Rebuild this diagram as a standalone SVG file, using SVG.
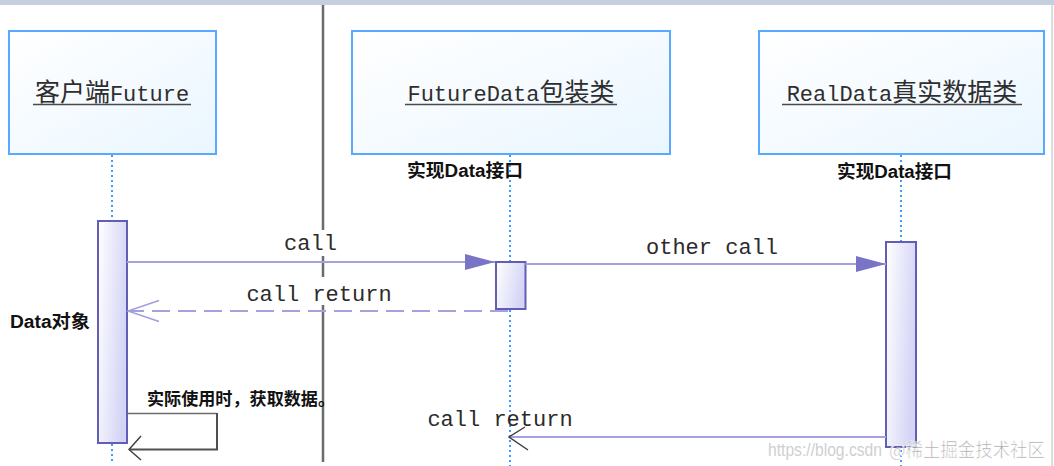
<svg xmlns="http://www.w3.org/2000/svg" width="1054" height="466" viewBox="0 0 1054 466">
<style>
.head{stroke:#58a9ff;stroke-width:2;fill:url(#gHead)}
.title{font-size:26px;fill:#2e2e2e;text-anchor:middle}
.lat{font-family:"Liberation Mono",monospace;font-size:22px}
.cjk{font-family:"Noto Sans CJK SC",sans-serif;font-size:25px}
.uline{stroke:#4a4a4a;stroke-width:1.6}
.life{stroke:#3d9bff;stroke-width:2;stroke-dasharray:2 3;fill:none}
.act{stroke:#625db5;stroke-width:2;fill:url(#gAct)}
.msg{font-family:"Liberation Mono",monospace;font-size:22px;fill:#2b2b2b;text-anchor:middle}
.note{font-family:"Liberation Sans","Noto Sans CJK SC",sans-serif;font-weight:bold;fill:#111}
.mline{stroke:#a3a2dc;stroke-width:1.8;fill:none}
.openg{stroke:#3c3c3c;stroke-width:1.4;fill:none}
.wm1{font-family:"Liberation Sans","Noto Sans CJK SC",sans-serif;font-size:18px;fill:#cfcfcf}
.wm2{font-family:"Noto Sans CJK SC",sans-serif;font-size:19px;fill:#8a8a8a;fill-opacity:0.75;stroke:#ffffff;stroke-width:0.6}
</style>
<defs>
<linearGradient id="gHead" x1="0" y1="0" x2="1" y2="1">
<stop offset="0" stop-color="#ffffff"/>
<stop offset="1" stop-color="#eaf6ff"/>
</linearGradient>
<linearGradient id="gAct" x1="0" y1="0" x2="1" y2="0.3">
<stop offset="0" stop-color="#ffffff"/>
<stop offset="1" stop-color="#d4d4f6"/>
</linearGradient>
<marker id="mFill" markerUnits="userSpaceOnUse" markerWidth="32" markerHeight="18" refX="30" refY="9" orient="auto">
<path d="M0,1 L30,9 L0,17 Z" fill="#7a74c6"/>
</marker>
</defs>
<rect x="0" y="0" width="1054" height="466" fill="#ffffff"/>
<rect x="0" y="0" width="1054" height="5" fill="#c6cfde"/>
<line x1="1052" y1="5" x2="1052" y2="466" stroke="#d0d0d0" stroke-width="1.5"/>

<g id="divider">
<line x1="323" y1="5" x2="323" y2="230" stroke="#6b6b6b" stroke-width="2.5"/>
<line x1="323" y1="256" x2="323" y2="277" stroke="#6b6b6b" stroke-width="2.5"/>
<line x1="323" y1="305" x2="323" y2="462" stroke="#6b6b6b" stroke-width="2.5"/>
</g>

<g id="lifelines">
<line class="life" x1="112" y1="155" x2="112" y2="220"/>
<line class="life" x1="112" y1="444" x2="112" y2="464"/>
<line class="life" x1="510" y1="155" x2="510" y2="466"/>
<line class="life" x1="901" y1="155" x2="901" y2="466"/>
</g>

<g id="node-client">
<rect class="head" x="9" y="31" width="207" height="123"/>
<text class="title" x="112" y="101"><tspan class="cjk">客户端</tspan><tspan class="lat">Future</tspan></text>
<line class="uline" x1="33" y1="104.5" x2="191" y2="104.5"/>
<rect class="act" x="98" y="221" width="29" height="222"/>
<text class="note" x="10" y="328" font-size="18" textLength="80" lengthAdjust="spacingAndGlyphs">Data对象</text>
</g>

<g id="node-futuredata">
<rect class="head" x="352" y="31" width="318" height="123"/>
<text class="title" x="511" y="101"><tspan class="lat">FutureData</tspan><tspan class="cjk">包装类</tspan></text>
<line class="uline" x1="405" y1="104.5" x2="617" y2="104.5"/>
<text class="note" x="407" y="177" font-size="18" textLength="116" lengthAdjust="spacingAndGlyphs">实现Data接口</text>
<rect class="act" x="496" y="262" width="29.5" height="47"/>
</g>

<g id="node-realdata">
<rect class="head" x="759" y="31" width="285" height="123"/>
<text class="title" x="902" y="101"><tspan class="lat">RealData</tspan><tspan class="cjk">真实数据类</tspan></text>
<line class="uline" x1="782" y1="104.5" x2="1022" y2="104.5"/>
<text class="note" x="837" y="178" font-size="18" textLength="115" lengthAdjust="spacingAndGlyphs">实现Data接口</text>
<rect class="act" x="886" y="242" width="30" height="205"/>
</g>

<g id="connectors">
<line class="mline" x1="127" y1="262" x2="495" y2="262" marker-end="url(#mFill)"/>
<text class="msg" x="310.5" y="250">call</text>

<line class="mline" x1="525.5" y1="264" x2="886" y2="264" marker-end="url(#mFill)"/>
<text class="msg" x="712" y="254">other call</text>

<line class="mline" x1="508" y1="311" x2="130" y2="311" stroke-dasharray="18 8"/>
<path d="M159,300.5 L128,311 L159,321.5" stroke="#a09fdc" stroke-width="1.5" fill="none"/>
<text class="msg" x="319" y="301">call return</text>

<line class="mline" x1="886" y1="437" x2="510" y2="437"/>
<path class="openg" d="M525,427 L509,437 L528,450"/>
<text class="msg" x="500" y="426">call return</text>

<path d="M127,413.5 L217,413.5" stroke="#6b6b6b" stroke-width="1.5" fill="none"/>
<path d="M217,413 L217,449.5 L130,449.5" stroke="#505050" stroke-width="2" fill="none"/>
<path class="openg" d="M141,436 L129,449.5 L141,460"/>
<text class="note" x="147" y="405" font-size="17" textLength="188" lengthAdjust="spacingAndGlyphs">实际使用时，获取数据。</text>
</g>

<g id="watermark">
<text class="wm1" x="768" y="456" textLength="114" lengthAdjust="spacingAndGlyphs">https://blog.csdn</text>
<text class="wm2" x="889" y="457" textLength="156" lengthAdjust="spacingAndGlyphs">@稀土掘金技术社区</text>
</g>
</svg>
